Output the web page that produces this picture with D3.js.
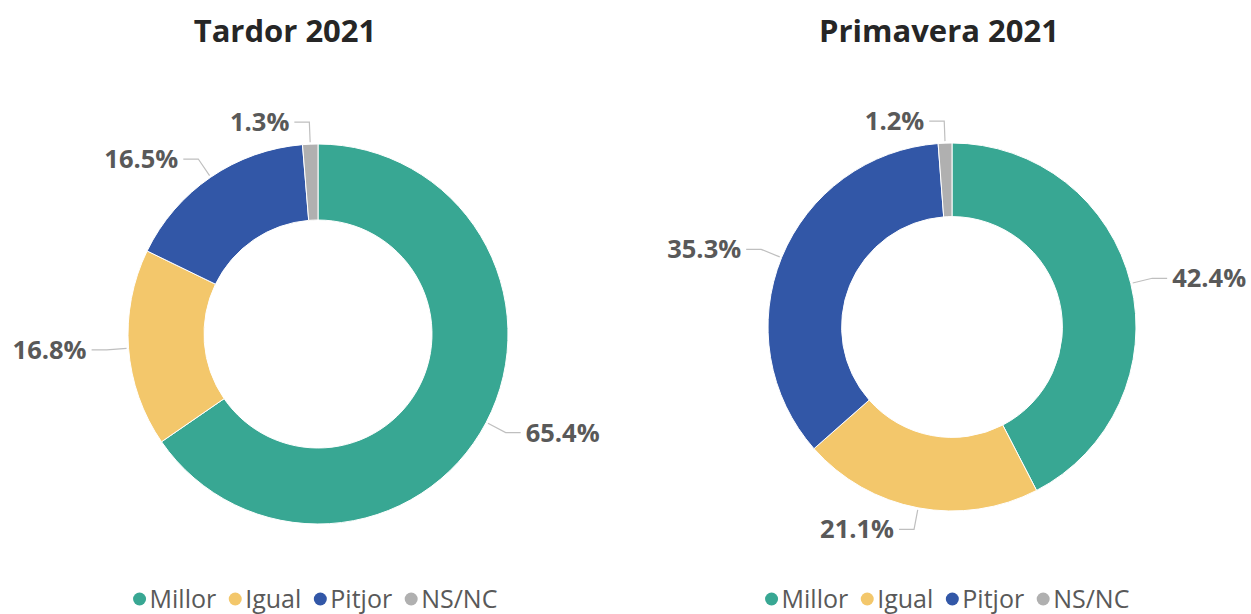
<!DOCTYPE html>
<html lang="ca">
<head>
<meta charset="UTF-8" />
<title>Tardor / Primavera 2021</title>
<script src="https://cdn.jsdelivr.net/npm/d3@7"></script>
<style>
  body { margin: 0; background: #fff; }
  svg text { font-family: "Open Sans", "Noto Sans", sans-serif; }
</style>
</head>
<body>
<svg id="chart" width="1251" height="614"></svg>
<script>
// data
const categories = ["Millor", "Igual", "Pitjor", "NS/NC"];
const colors = ["#38a793", "#f3c76b", "#3257a7", "#b0b0b0"];
const tardorValues = [65.4, 16.8, 16.5, 1.3];
const primaveraValues = [42.4, 21.1, 35.3, 1.2];

const svg = d3.select("#chart");

const charts = [
  { title: "Tardor 2021", values: tardorValues, cx: 318, cy: 334, r: 190, titleX: 285, legendX: 315 },
  { title: "Primavera 2021", values: primaveraValues, cx: 952, cy: 327, r: 184, titleX: 939, legendX: 947 }
];

const colorScale = d3.scaleOrdinal(categories, colors);

charts.forEach(c => {
  const data = categories.map((k, i) => ({ key: k, value: c.values[i] }));
  const pie = d3.pie().value(d => d.value).sort(null);
  const arcs = pie(data);
  const arc = d3.arc().innerRadius(c.r * 0.6).outerRadius(c.r);

  svg.append("text")
    .attr("x", c.titleX).attr("y", 42)
    .attr("text-anchor", "middle")
    .attr("font-size", 31).attr("font-weight", "bold")
    .attr("fill", "#262626")
    .text(c.title);

  const g = svg.append("g").attr("transform", `translate(${c.cx},${c.cy})`);

  g.selectAll("path")
    .data(arcs)
    .enter()
    .append("path")
    .attr("d", arc)
    .attr("fill", d => colorScale(d.data.key))
    .attr("stroke", "#fff")
    .attr("stroke-width", 1);

  // labels with leader lines
  arcs.forEach(d => {
    const a = (d.startAngle + d.endAngle) / 2;
    const p0 = [Math.sin(a) * (c.r + 2), -Math.cos(a) * (c.r + 2)];
    const p1 = [Math.sin(a) * (c.r + 22), -Math.cos(a) * (c.r + 22)];
    const right = Math.sin(a) > 0.0001;
    const dir = right ? 1 : -1;
    const p2 = [p1[0] + dir * 15, p1[1]];
    g.append("polyline")
      .attr("points", [p0, p1, p2].map(p => p.join(",")).join(" "))
      .attr("fill", "none")
      .attr("stroke", "#bfbfbf")
      .attr("stroke-width", 1.2);
    g.append("text")
      .attr("x", p2[0] + dir * 5)
      .attr("y", p2[1])
      .attr("dy", "0.35em")
      .attr("text-anchor", right ? "start" : "end")
      .attr("font-size", 25.5).attr("font-weight", "bold")
      .attr("fill", "#595959")
      .text(d3.format(".1f")(d.data.value) + "%");
  });

  // legend
  const lg = svg.append("g");
  let x = 0;
  categories.forEach(k => {
    const item = lg.append("g").attr("transform", `translate(${x},0)`);
    item.append("circle").attr("cx", 7).attr("cy", 0).attr("r", 6.5).attr("fill", colorScale(k));
    const t = item.append("text")
      .attr("x", 17).attr("y", 0).attr("dy", "0.36em")
      .attr("font-size", 25).attr("fill", "#595959")
      .text(k);
    x += 17 + t.node().getComputedTextLength() + 12;
  });
  const w = x - 12;
  lg.attr("transform", `translate(${c.legendX - w / 2},599)`);
});
</script>
</body>
</html>
